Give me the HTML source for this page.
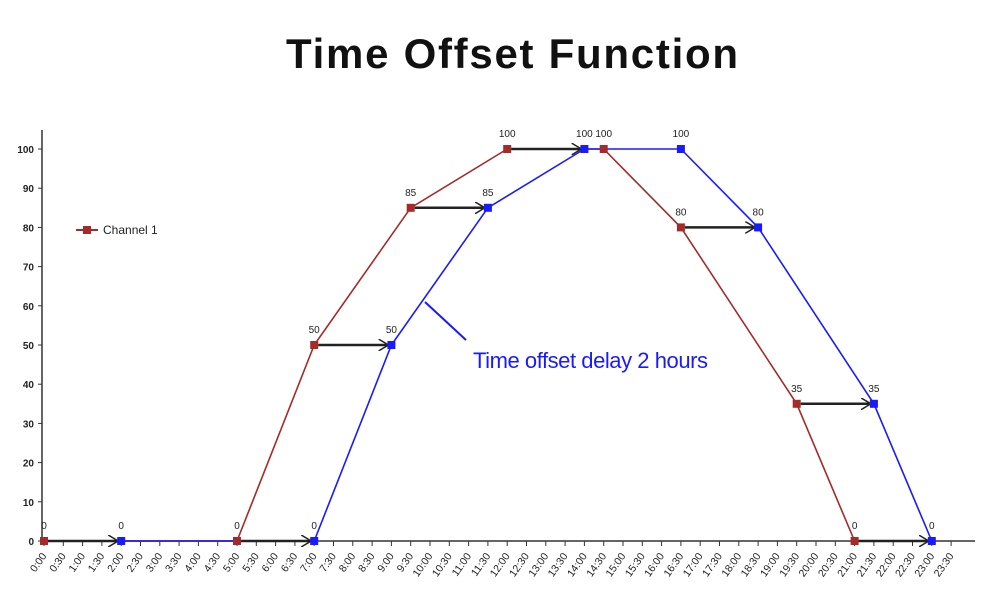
<!DOCTYPE html><html><head><style>body{margin:0;background:#fff}</style></head><body>
<svg width="1000" height="610" xmlns="http://www.w3.org/2000/svg" font-family="Liberation Sans, sans-serif">
<text x="286" y="68" textLength="452" lengthAdjust="spacing" font-size="42" font-weight="bold" fill="#111">Time  Offset  Function</text>
<defs><marker id="ah" markerWidth="12" markerHeight="12" refX="10" refY="6" orient="auto" markerUnits="userSpaceOnUse"><path d="M0,0 L10,6 L0,12" fill="none" stroke="#222" stroke-width="1.5"/></marker></defs>
<g stroke="#333" stroke-width="1.5">
<line x1="42" y1="130" x2="42" y2="542"/>
<line x1="42" y1="541" x2="975" y2="541"/>
</g>
<g id="yt" font-size="10" font-weight="bold" fill="#222" text-anchor="end"></g>
<g id="xt" font-size="10.5" fill="#222"></g>
<g fill="none" stroke-width="1.6">
<polyline id="red" stroke="#a52a2a"/>
<polyline id="blue" stroke="#1a1aff"/>
</g>
<g id="arr" stroke="#222" stroke-width="2.5" marker-end="url(#ah)"></g>
<g id="pts"></g>
<g id="lbl" font-size="10" fill="#222" text-anchor="middle"></g>
<line x1="76" y1="230" x2="98" y2="230" stroke="#a52a2a" stroke-width="2"/>
<rect x="83" y="226" width="8" height="8" fill="#a52a2a"/>
<text x="103" y="234" font-size="12" fill="#222">Channel 1</text>
<line x1="425" y1="302" x2="466" y2="340" stroke="#1a1aff" stroke-width="2"/>
<text x="473" y="368" font-size="22" fill="#1a1aff" textLength="235">Time offset delay 2 hours</text>
</svg>
<script>
const ns="http://www.w3.org/2000/svg";
const X=s=>44+s*19.3, Y=v=>541-v*3.92;
function el(p,t,a,txt){const e=document.createElementNS(ns,t);for(const k in a)e.setAttribute(k,a[k]);if(txt!==undefined)e.textContent=txt;document.getElementById(p).appendChild(e);return e;}
for(let v=0;v<=100;v+=10){el('yt','text',{x:34,y:Y(v)+4},v);el('yt','line',{x1:38,x2:42,y1:Y(v),y2:Y(v),stroke:'#333'});}
for(let s=0;s<48;s++){const x=X(s);const lab=Math.floor(s/2)+':'+(s%2?'30':'00');
el('xt','line',{x1:x,x2:x,y1:541,y2:546,stroke:'#333'});
el('xt','text',{x:x+3,y:556,transform:`rotate(-55 ${x+3} 556)`,'text-anchor':'end'},lab);}
const R=[[0,0],[10,0],[14,50],[19,85],[24,100],[29,100],[33,80],[39,35],[42,0]];
const B=[[4,0],[14,0],[18,50],[23,85],[28,100],[33,100],[37,80],[43,35],[46,0]];
document.getElementById('red').setAttribute('points',R.map(p=>X(p[0])+','+Y(p[1])).join(' '));
document.getElementById('blue').setAttribute('points',B.map(p=>X(p[0])+','+Y(p[1])).join(' '));
[[0,4,0],[10,14,0],[14,18,50],[19,23,85],[24,28,100],[33,37,80],[39,43,35],[42,46,0]].forEach(a=>el('arr','line',{x1:X(a[0])+4,x2:X(a[1])-3,y1:Y(a[2]),y2:Y(a[2])}));
R.forEach(p=>{el('pts','rect',{x:X(p[0])-4,y:Y(p[1])-4,width:8,height:8,fill:'#a52a2a'});el('lbl','text',{x:X(p[0]),y:Y(p[1])-12},p[1]);});
B.forEach(p=>{el('pts','rect',{x:X(p[0])-4,y:Y(p[1])-4,width:8,height:8,fill:'#1a1aff'});el('lbl','text',{x:X(p[0]),y:Y(p[1])-12},p[1]);});
</script>
</body></html>
